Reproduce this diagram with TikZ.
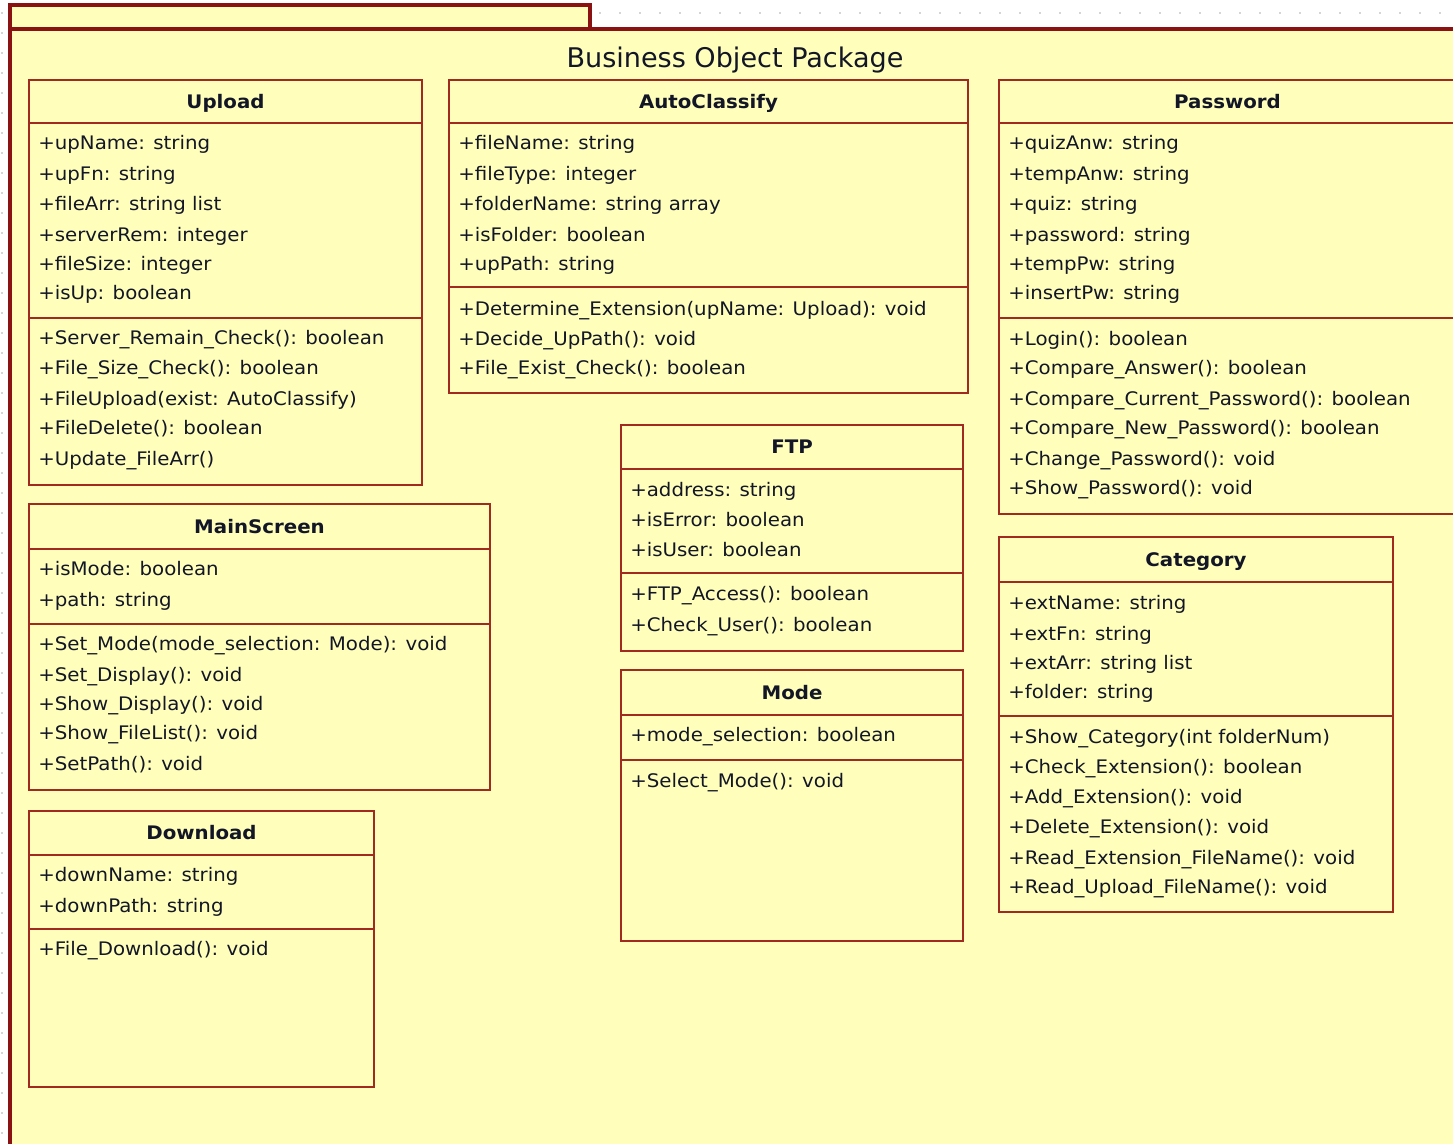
\documentclass[tikz,border=0pt]{standalone}
\usepackage{fontspec}
\newfontfamily\umlfont[FakeStretch=1.06]{DejaVu Sans}
\newfontfamily\pkgfont{DejaVu Sans}
\definecolor{pkgfill}{RGB}{255,255,187}
\definecolor{pkgborder}{RGB}{139,18,18}
\definecolor{clsborder}{RGB}{160,42,32}
\definecolor{txt}{RGB}{18,22,38}
\definecolor{griddot}{RGB}{170,170,170}
\newcommand\umlclass[8]{%
  \draw[clsbox] (#2,#3) rectangle (#4,#5);
  \draw[clsline] (#2,#7) -- (#4,#7) (#2,#8) -- (#4,#8);
  \node[clstitle] (#1) at ({(#2+#4)/2},{(#3+#7)/2+6.5}) {#6};
}
\newcommand\umlrows[3]{%
  \foreach \yy/\rtxt [count=\ii] in {#3} {\node[rowtext] (#1-\ii) at (#2+9,\yy+6) {\rtxt};}
}
\begin{document}
\begin{tikzpicture}[x=0.75pt,y=-0.75pt,
  clsbox/.style={draw=clsborder, line width=1.6pt, fill=pkgfill},
  clsline/.style={draw=clsborder, line width=1.6pt},
  rowtext/.style={anchor=base west, inner sep=0pt, text=txt, font=\umlfont\fontsize{14}{16}\selectfont},
  clstitle/.style={anchor=base, inner sep=0pt, text=txt, font=\umlfont\bfseries\fontsize{14}{16}\selectfont},
  pkgbox/.style={draw=pkgborder, fill=pkgfill, line width=2.4pt}]
\useasboundingbox (0,0) rectangle (1453,1143);
\clip (0,0) rectangle (1453,1143);
\fill[white] (0,0) rectangle (1453,1143);
\foreach \gy in {13,33,...,1133} {\fill[griddot] (2,\gy) circle (0.9);}
\foreach \gx in {600,620,...,1450} {\fill[griddot] (\gx,13) circle (0.9);}
% package
\draw[pkgbox] (10,5) rectangle (590,29);
\draw[pkgbox] (10,29) rectangle (1480,1170);
\node[anchor=base, inner sep=0pt, text=txt, font=\pkgfont\fontsize{20.3}{24}\selectfont] (pkgtitle) at (735,67) {Business Object Package};
% Upload
\umlclass{upload}{29}{80}{422}{485}{Upload}{123}{318}
\umlrows{upload-a}{29}{143/+upName: string, 174/+upFn: string, 204/+fileArr: string list, 235/+serverRem: integer, 264/+fileSize: integer, 293/+isUp: boolean}
\umlrows{upload-m}{29}{338/+Server\_Remain\_Check(): boolean, 368/+File\_Size\_Check(): boolean, 399/+FileUpload(exist: AutoClassify), 428/+FileDelete(): boolean, 459/+Update\_FileArr()}
% AutoClassify
\umlclass{autoclassify}{449}{80}{968}{393}{AutoClassify}{123}{287}
\umlrows{autoclassify-a}{449}{143/+fileName: string, 174/+fileType: integer, 204/+folderName: string array, 235/+isFolder: boolean, 264/+upPath: string}
\umlrows{autoclassify-m}{449}{309/+Determine\_Extension(upName: Upload): void, 339/+Decide\_UpPath(): void, 368/+File\_Exist\_Check(): boolean}
% Password
\umlclass{password}{999}{80}{1456}{514}{Password}{123}{318}
\umlrows{password-a}{999}{143/+quizAnw: string, 174/+tempAnw: string, 204/+quiz: string, 235/+password: string, 264/+tempPw: string, 293/+insertPw: string}
\umlrows{password-m}{999}{339/+Login(): boolean, 368/+Compare\_Answer(): boolean, 399/+Compare\_Current\_Password(): boolean, 428/+Compare\_New\_Password(): boolean, 459/+Change\_Password(): void, 488/+Show\_Password(): void}
% FTP
\umlclass{ftp}{621}{425}{963}{651}{FTP}{469}{573}
\umlrows{ftp-a}{621}{490/+address: string, 520/+isError: boolean, 550/+isUser: boolean}
\umlrows{ftp-m}{621}{594/+FTP\_Access(): boolean, 625/+Check\_User(): boolean}
% Mode
\umlclass{mode}{621}{670}{963}{941}{Mode}{715}{760}
\umlrows{mode-a}{621}{735/+mode\_selection: boolean}
\umlrows{mode-m}{621}{781/+Select\_Mode(): void}
% MainScreen
\umlclass{mainscreen}{29}{504}{490}{790}{MainScreen}{549}{624}
\umlrows{mainscreen-a}{29}{569/+isMode: boolean, 600/+path: string}
\umlrows{mainscreen-m}{29}{644/+Set\_Mode(mode\_selection: Mode): void, 675/+Set\_Display(): void, 704/+Show\_Display(): void, 733/+Show\_FileList(): void, 764/+SetPath(): void}
% Category
\umlclass{category}{999}{537}{1393}{912}{Category}{582}{716}
\umlrows{category-a}{999}{603/+extName: string, 634/+extFn: string, 663/+extArr: string list, 692/+folder: string}
\umlrows{category-m}{999}{737/+Show\_Category(int folderNum), 767/+Check\_Extension(): boolean, 797/+Add\_Extension(): void, 827/+Delete\_Extension(): void, 858/+Read\_Extension\_FileName(): void, 887/+Read\_Upload\_FileName(): void}
% Download
\umlclass{download}{29}{811}{374}{1087}{Download}{855}{929}
\umlrows{download-a}{29}{875/+downName: string, 906/+downPath: string}
\umlrows{download-m}{29}{949/+File\_Download(): void}
\end{tikzpicture}
\end{document}
